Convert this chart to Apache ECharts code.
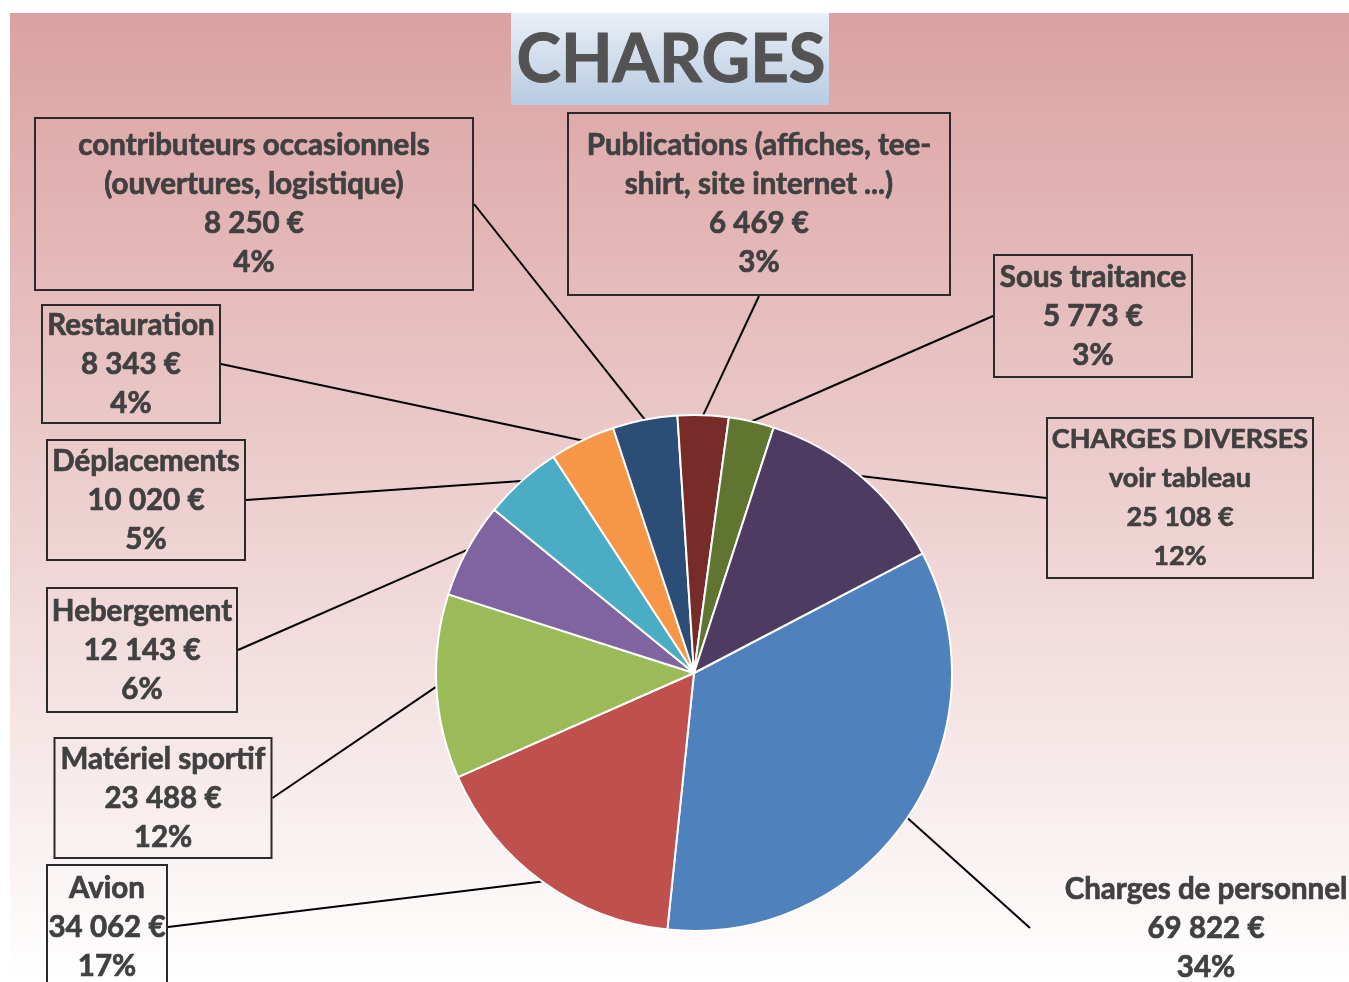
<!DOCTYPE html>
<html>
<head>
<meta charset="utf-8">
<script src="https://cdn.jsdelivr.net/npm/echarts@6/dist/echarts.min.js"></script>
<style>
html, body { margin: 0; padding: 0; background: #fff; }
#main { width: 1349px; height: 982px; }
</style>
</head>
<body>
<div id="main"></div>
<script>
// postes de charges (ordre horaire depuis "Charges de personnel")
var categories = [
	'Charges de personnel',
	'Avion',
	'Matériel sportif',
	'Hebergement',
	'Déplacements',
	'Restauration',
	'contributeurs occasionnels\n(ouvertures, logistique)',
	'Publications (affiches, tee-\nshirt, site internet ...)',
	'Sous traitance',
	'CHARGES DIVERSES\nvoir tableau'
];
var amounts = [69822, 34062, 23488, 12143, 10020, 8343, 8250, 6469, 5773, 25108];
var colors = ['#4f81bd', '#c0504d', '#9bbb59', '#8064a2', '#4bacc6', '#f79646',
	'#2c4d75', '#772c2a', '#5f7530', '#4d3b62'];

// boites des etiquettes : centre x, y, largeur, hauteur
var labelBoxes = [
	[1206, 928, 352, 116],
	[107, 927, 120, 124],
	[163, 798, 217, 120],
	[142, 650, 190, 124],
	[146, 500, 198, 120],
	[131, 364, 178, 118],
	[254, 204, 438, 172],
	[759, 204, 382, 182],
	[1093, 316, 198, 122],
	[1180, 498, 266, 160]
];

var LINE_H = 39;
var FONT = 'Lato, "Open Sans", sans-serif';
var TEXT_COLOR = '#404040';

function formatEuro(v) {
	return String(v).replace(/\B(?=(\d{3})+(?!\d))/g, ' ') + ' €';
}

var pieData = new Array();
for (var i = 0; i < categories.length; i++) {
	var b = labelBoxes[i];
	var nLines = categories[i].split('\n').length + 2;
	var vp = Math.max(0, (b[3] - nLines * LINE_H) / 2);
	pieData[i] = {
		name : categories[i],
		value : amounts[i],
		itemStyle : { color : colors[i] },
		label : {
			width : b[2],
			padding : [ vp, 0, vp, 0 ],
			fontSize : i === 9 ? 27 : 29.5,
			borderColor : i === 0 ? 'rgba(0,0,0,0)' : '#2a2a2a',
			borderWidth : i === 0 ? 0 : 2
		}
	};
}

var chart = echarts.init(document.getElementById('main'));

var option = {
	animation : false,
	graphic : [ {
		type : 'rect',
		z : -10,
		shape : { x : 10, y : 13, width : 1339, height : 969 },
		style : {
			fill : new echarts.graphic.LinearGradient(0, 0, 0, 1, [
				{ offset : 0, color : '#dba1a1' },
				{ offset : 0.5, color : '#edcfcf' },
				{ offset : 1, color : '#ffffff' } ])
		}
	}, {
		type : 'rect',
		z : -5,
		shape : { x : 511, y : 13, width : 318, height : 92 },
		style : {
			fill : new echarts.graphic.LinearGradient(0, 0, 0, 1, [
				{ offset : 0, color : '#eaeff6' },
				{ offset : 1, color : '#b7cbe2' } ])
		}
	} ],
	title : {
		text : 'CHARGES',
		left : 666,
		top : 22,
		textAlign : 'center',
		textStyle : {
			fontFamily : FONT,
			fontWeight : 'bold',
			fontSize : 67,
			color : '#535353',
			textBorderColor : '#535353',
			textBorderWidth : 1
		}
	},
	series : [ {
		type : 'pie',
		center : [ 694, 673 ],
		radius : 258,
		startAngle : 27.6,
		clockwise : true,
		avoidLabelOverlap : false,
		percentPrecision : 0,
		data : pieData,
		itemStyle : {
			borderColor : '#ffffff',
			borderWidth : 2
		},
		label : {
			show : true,
			position : 'outside',
			fontFamily : FONT,
			fontWeight : 'bold',
			lineHeight : LINE_H,
			color : TEXT_COLOR,
			textBorderColor : TEXT_COLOR,
			textBorderWidth : 0.7,
			align : 'center',
			formatter : function(p) {
				return p.name + '\n' + formatEuro(p.value) + '\n' + Math.round(p.percent) + '%';
			}
		},
		labelLine : {
			show : true,
			length : 10,
			length2 : 0,
			lineStyle : {
				color : '#000000',
				width : 2
			}
		},
		labelLayout : function(params) {
			var b = labelBoxes[params.dataIndex];
			return {
				x : b[0],
				y : b[1],
				align : 'center',
				verticalAlign : 'middle'
			};
		}
	} ]
};
chart.setOption(option);
</script>
</body>
</html>
